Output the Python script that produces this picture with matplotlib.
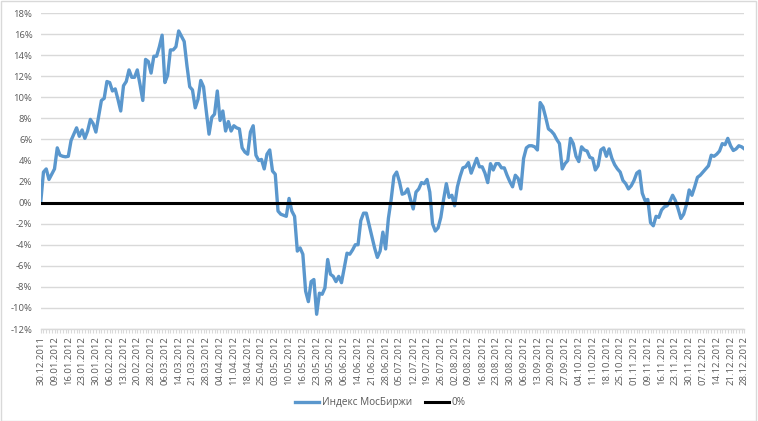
import matplotlib
matplotlib.use("Agg")
import matplotlib.pyplot as plt
from matplotlib.ticker import FixedLocator, FuncFormatter
from matplotlib.patches import Rectangle

tick_labels = ["30.12.2011", "09.01.2012", "16.01.2012", "23.01.2012", "30.01.2012", "06.02.2012",
               "13.02.2012", "20.02.2012", "28.02.2012", "06.03.2012", "14.03.2012", "21.03.2012",
               "28.03.2012", "04.04.2012", "11.04.2012", "18.04.2012", "25.04.2012", "03.05.2012",
               "10.05.2012", "16.05.2012", "23.05.2012", "30.05.2012", "06.06.2012", "14.06.2012",
               "21.06.2012", "28.06.2012", "05.07.2012", "12.07.2012", "19.07.2012", "26.07.2012",
               "02.08.2012", "09.08.2012", "16.08.2012", "23.08.2012", "30.08.2012", "06.09.2012",
               "13.09.2012", "20.09.2012", "27.09.2012", "04.10.2012", "11.10.2012", "18.10.2012",
               "25.10.2012", "01.11.2012", "09.11.2012", "16.11.2012", "23.11.2012", "30.11.2012",
               "07.12.2012", "14.12.2012", "21.12.2012", "28.12.2012"]
label_step = 5

moex_index = [
    0.0, 2.9, 3.2, 2.2, 2.7, 3.2, 5.2, 4.5, 4.4, 4.35,
    4.4, 5.9, 6.5, 7.1, 6.3, 6.9, 6.1, 6.8, 7.9, 7.5,
    6.7, 8.2, 9.7, 9.9, 11.5, 11.4, 10.6, 10.8, 9.8, 8.7,
    11.1, 11.5, 12.6, 11.9, 11.9, 12.6, 11.2, 9.7, 13.6, 13.4,
    12.3, 13.9, 13.9, 14.8, 15.9, 11.4, 12.1, 14.5, 14.5, 14.8,
    16.3, 15.8, 15.3, 13.0, 11.0, 10.7, 9.0, 9.8, 11.6, 11.0,
    8.7, 6.5, 8.1, 8.4, 10.6, 7.8, 8.7, 6.8, 7.7, 6.8,
    7.3, 7.1, 7.0, 5.2, 4.8, 4.6, 6.7, 7.3, 4.5, 4.0,
    4.1, 3.2, 4.6, 5.0, 3.0, 2.7, -0.8, -1.1, -1.2, -1.3,
    0.4, -0.8, -1.3, -4.6, -4.3, -4.9, -8.4, -9.4, -7.5, -7.3,
    -10.6, -8.6, -8.7, -8.1, -5.4, -6.8, -7.0, -7.5, -7.0, -7.6,
    -6.2, -4.8, -4.9, -4.5, -4.0, -4.0, -1.7, -1.0, -1.0, -2.1,
    -3.2, -4.3, -5.2, -4.6, -2.8, -4.4, -1.5, 0.3, 2.5, 2.9,
    2.0, 0.8, 0.9, 1.3, 0.3, -0.6, 1.0, 1.3, 1.9, 1.8,
    2.2, 1.0, -2.0, -2.7, -2.4, -1.4, 0.3, 1.8, 0.5, 0.7,
    -0.3, 1.5, 2.5, 3.3, 3.4, 3.8, 2.8, 3.5, 4.2, 3.4,
    3.4, 2.8, 1.9, 3.7, 3.1, 3.7, 3.7, 3.3, 3.3, 2.6,
    2.0, 1.5, 2.6, 2.3, 1.3, 4.2, 5.2, 5.4, 5.4, 5.3,
    5.0, 9.5, 9.1, 8.1, 7.0, 6.8, 6.5, 6.0, 5.6, 3.2,
    3.7, 4.0, 6.1, 5.6, 4.4, 3.9, 5.3, 5.0, 4.9, 4.3,
    4.2, 3.1, 3.5, 5.0, 5.2, 4.4, 5.1, 4.2, 3.6, 3.2,
    2.9, 2.1, 1.8, 1.3, 1.6, 2.1, 2.8, 3.0, 0.9, 0.2,
    0.3, -1.9, -2.2, -1.3, -1.4, -0.7, -0.4, -0.3, 0.1, 0.7,
    0.2, -0.6, -1.5, -1.1, -0.2, 1.2, 0.7, 1.5, 2.4, 2.6,
    2.9, 3.2, 3.5, 4.5, 4.4, 4.6, 4.9, 5.6, 5.5, 6.1,
    5.4, 4.95, 5.1, 5.4, 5.3, 5.1,
]
zero_line = [0.0] * len(moex_index)

series_names = ["Индекс МосБиржи", "0%"]
y_ticks = list(range(-12, 19, 2))

plt.rcParams['font.family'] = ['Open Sans', 'DejaVu Sans']

fig = plt.figure(figsize=(7.58, 4.21), dpi=100)
fig.patches.append(Rectangle((0.001, 0.001), 0.997, 0.997, transform=fig.transFigure,
                             fill=False, edgecolor="#d9d9d9", linewidth=1.0))
ax = fig.add_axes([0.0537, 0.2185, 0.9283, 0.7505])

x = list(range(len(moex_index)))
ax.plot(x, moex_index, color="#5a97cd", linewidth=2.4, solid_joinstyle="round",
        label=series_names[0], zorder=3)
ax.plot(x, zero_line, color="black", linewidth=2.2, label=series_names[1], zorder=4)

ax.set_xlim(0, len(moex_index) - 1)
ax.set_ylim(-12, 18)
ax.set_yticks(y_ticks)
ax.yaxis.set_major_formatter(FuncFormatter(lambda v, p: f"{int(v)}%"))
ax.grid(axis="y", color="#d9d9d9", linewidth=1.0, zorder=0)

major_pos = [i * label_step for i in range(len(tick_labels))]
ax.xaxis.set_major_locator(FixedLocator(major_pos))
ax.set_xticklabels(tick_labels, rotation=90, fontsize=6.8, color="#595959")
ax.xaxis.set_minor_locator(FixedLocator(x))
ax.tick_params(axis="x", which="both", length=3, color="#d9d9d9", width=0.8, pad=2)
ax.tick_params(axis="y", length=0, labelsize=6.8, labelcolor="#595959", pad=6)

for s in ["top", "right", "left"]:
    ax.spines[s].set_visible(False)
ax.spines["bottom"].set_color("#d9d9d9")
ax.spines["bottom"].set_linewidth(1.0)

leg = fig.legend(loc="center", bbox_to_anchor=(0.502, 0.043), ncol=2, frameon=False,
                 fontsize=7.2, handlelength=2.4, columnspacing=1.3, handletextpad=0.25)
for t in leg.get_texts():
    t.set_color("#595959")

fig.savefig("out.png", dpi=100)
